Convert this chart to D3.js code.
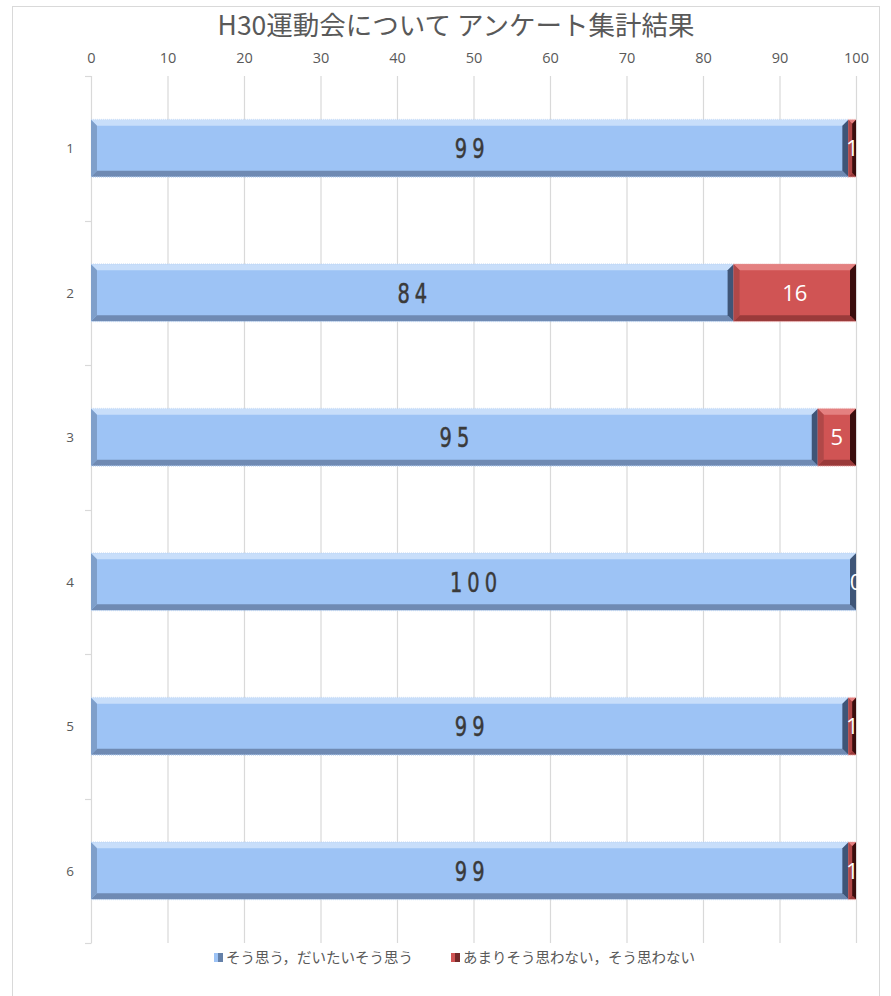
<!DOCTYPE html>
<html><head><meta charset="utf-8">
<script src="https://cdn.jsdelivr.net/npm/d3@7"></script>
<style>
html,body{margin:0;padding:0;background:#fff;}
svg{display:block;}
</style></head>
<body>
<svg id="chart" width="891" height="996"></svg>
<script>
const title = "H30運動会について アンケート集計結果";
const categories = ["1","2","3","4","5","6"];
const seriesNames = ["そう思う，だいたいそう思う","あまりそう思わない，そう思わない"];
const agree = [99,84,95,100,99,99];
const disagree = [1,16,5,0,1,1];
const xTicks = [0,10,20,30,40,50,60,70,80,90,100];

(function(){
const svg = d3.select("#chart");
const pLeft = 91, pRight = 856, pTop = 76, pBottom = 943;
const textColor = "#595959";
const gridColor = "#d9d9d9";
const fontJP = "'Noto Sans CJK JP','Noto Sans',sans-serif";

svg.append("rect").attr("x",12.5).attr("y",6.5).attr("width",867).attr("height",1000)
  .attr("fill","#fff").attr("stroke","#d9d9d9").attr("stroke-width",1);

const x = d3.scaleLinear().domain([0,100]).range([pLeft,pRight]);
const y = d3.scaleBand().domain(categories).range([pTop,pBottom]).paddingInner(0.607).paddingOuter(0.3035);

svg.append("text").attr("x",456).attr("y",35).attr("text-anchor","middle")
  .attr("font-family",fontJP).attr("font-size",26.5).attr("fill",textColor)
  .attr("xml:space","preserve").text(title);

svg.append("g").selectAll("line").data(xTicks).join("line")
  .attr("x1",d=>x(d)+0.5).attr("x2",d=>x(d)+0.5).attr("y1",pTop).attr("y2",pBottom)
  .attr("stroke",gridColor).attr("stroke-width",1.2);

const axTop = svg.append("g").attr("transform",`translate(0,${pTop-13})`)
  .call(d3.axisTop(x).tickValues(xTicks).tickSize(0).tickPadding(0));
axTop.select(".domain").remove();
axTop.selectAll("text").attr("font-family","'Open Sans','DejaVu Sans',sans-serif").attr("font-size",14.5).attr("fill",textColor);

const bounds = d3.range(categories.length+1).map(i=>pTop + i*y.step());
svg.append("g").selectAll("line").data(bounds).join("line")
  .attr("x1",pLeft-6).attr("x2",pLeft+0.5).attr("y1",d=>Math.round(d)+0.5).attr("y2",d=>Math.round(d)+0.5)
  .attr("stroke",gridColor).attr("stroke-width",1.2);

svg.append("g").selectAll("text").data(categories).join("text")
  .attr("x",70).attr("y",d=>y(d)+y.bandwidth()/2+5).attr("text-anchor","middle")
  .attr("font-family","'Open Sans','DejaVu Sans',sans-serif").attr("font-size",13.5).attr("fill",textColor).text(d=>d);

const palettes = [
  {face:"#9dc3f5", top:"#c8defa", bottom:"#6f8ab3", left:"#7f9fca", right:"#3f5577", dot:"#b9d2f2"},
  {face:"#d05454", top:"#e48080", bottom:"#9a3a3a", left:"#b04848", right:"#3a0d0d", dot:"#e8a0a0"}
];
function bevel(g, x0, y0, w, h, p){
  const b = Math.min(6, w/2, h/2);
  const x1 = x0+w, y1 = y0+h;
  g.append("rect").attr("x",x0).attr("y",y0).attr("width",w).attr("height",h).attr("fill",p.face);
  g.append("polygon").attr("points",[[x0,y0],[x1,y0],[x1-b,y0+b],[x0+b,y0+b]].join(" ")).attr("fill",p.top);
  g.append("polygon").attr("points",[[x0,y1],[x1,y1],[x1-b,y1-b],[x0+b,y1-b]].join(" ")).attr("fill",p.bottom);
  g.append("polygon").attr("points",[[x0,y0],[x0+b,y0+b],[x0+b,y1-b],[x0,y1]].join(" ")).attr("fill",p.left);
  g.append("polygon").attr("points",[[x1,y0],[x1-b,y0+b],[x1-b,y1-b],[x1,y1]].join(" ")).attr("fill",p.right);
  g.append("line").attr("x1",x0).attr("x2",x1).attr("y1",y1+0.5).attr("y2",y1+0.5)
    .attr("stroke",p.dot).attr("stroke-width",1).attr("stroke-dasharray","1,1");
  g.append("line").attr("x1",x0).attr("x2",x1).attr("y1",y0-0.5).attr("y2",y0-0.5)
    .attr("stroke",p.dot).attr("stroke-width",1).attr("stroke-dasharray","1,1").attr("opacity",0.6);
}

const series = [agree, disagree];
const stackStart = categories.map(()=>0);
const barsG = svg.append("g");
const labelData = [];
series.forEach((vals, si)=>{
  categories.forEach((c, i)=>{
    const v = vals[i];
    const s = stackStart[i];
    const x0 = x(s), x1 = x(s+v);
    const y0 = y(c), h = y.bandwidth();
    if (v > 0) bevel(barsG.append("g"), x0, y0, x1-x0, h, palettes[si]);
    labelData.push({si, v, cx:(x0+x1)/2, cy:y0+h/2});
    stackStart[i] += v;
  });
});

svg.append("clipPath").attr("id","plotclip").append("rect")
  .attr("x",pLeft).attr("y",pTop-10).attr("width",pRight-pLeft+1).attr("height",pBottom-pTop+20);

const ls = 7, sx = 0.72;
const lab = svg.append("g").attr("clip-path","url(#plotclip)");
lab.selectAll("text.a").data(labelData.filter(d=>d.si===0)).join("text").attr("class","a")
  .attr("transform",d=>`translate(${d.cx + ls*sx/2},${d.cy+10}) scale(${sx},1)`)
  .attr("text-anchor","middle")
  .attr("font-family","'DejaVu Sans',sans-serif")
  .attr("font-size",27)
  .attr("letter-spacing",ls)
  .attr("fill","#3a3a3a").attr("stroke","#3a3a3a").attr("stroke-width",0.5)
  .text(d=>d.v);
lab.selectAll("text.b").data(labelData.filter(d=>d.si===1)).join("text").attr("class","b")
  .attr("x",d=>d.cx).attr("y",d=>d.cy+8)
  .attr("text-anchor","middle")
  .attr("font-family","'Open Sans','DejaVu Sans',sans-serif")
  .attr("font-size",22)
  .attr("fill","#ffffff")
  .text(d=>d.v);

const legend = svg.append("g").attr("font-family",fontJP).attr("font-size",14.5).attr("fill",textColor);
const legendPos = [214, 451];
seriesNames.forEach((n,i)=>{
  const p = palettes[i];
  legend.append("rect").attr("x",legendPos[i]).attr("y",953).attr("width",9).attr("height",9).attr("fill",p.face);
  legend.append("rect").attr("x",legendPos[i]+4).attr("y",953).attr("width",5).attr("height",9).attr("fill",p.right).attr("opacity",0.6);
  legend.append("text").attr("x",legendPos[i]+12).attr("y",962.5).text(n);
});
})();
</script>
</body></html>
